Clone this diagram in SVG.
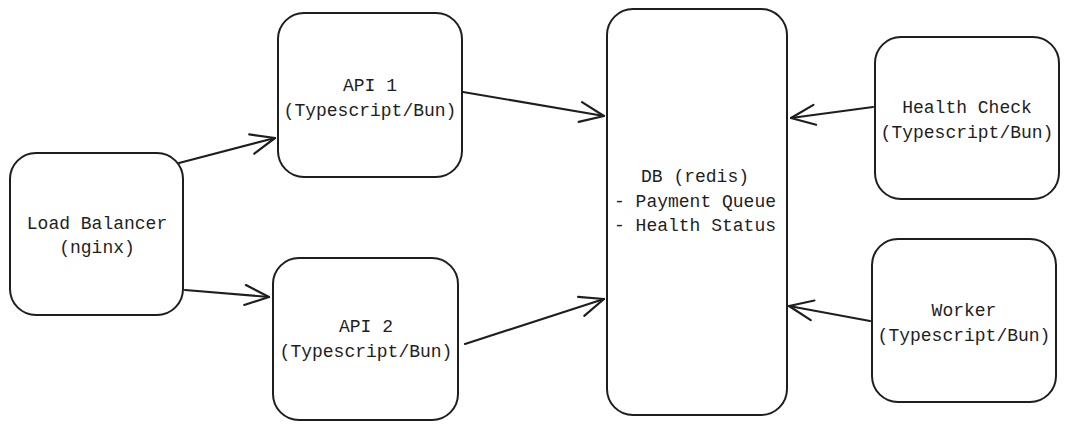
<svg xmlns="http://www.w3.org/2000/svg" width="1069" height="430" viewBox="0 0 1069 430">
<style>
.box{fill:#fff;stroke:#1e1e1e;stroke-width:2}
.lbl{font-family:"Liberation Mono","DejaVu Sans Mono",monospace;font-size:18px;fill:#1e1e1e;text-anchor:middle}
.edge{fill:none;stroke:#1e1e1e;stroke-width:2.2;stroke-linecap:round}
</style>
<defs>
<marker id="arr" markerUnits="userSpaceOnUse" markerWidth="30" markerHeight="30" refX="0" refY="0" viewBox="-28 -14 30 28" orient="auto" overflow="visible">
<path d="M -24 -10 L 0 0 L -24 10" fill="none" stroke="#1e1e1e" stroke-width="2.2" stroke-linecap="round" stroke-linejoin="round"/>
</marker>
</defs>
<rect width="1069" height="430" fill="#fff"/>
<g id="lb"><rect class="box" x="10" y="153" width="173" height="162" rx="26"/>
<text class="lbl" x="97" y="229">Load Balancer</text><text class="lbl" x="97" y="253">(nginx)</text></g>
<g id="api1"><rect class="box" x="278" y="13" width="184" height="164" rx="26"/>
<text class="lbl" x="370" y="91">API 1</text><text class="lbl" x="370" y="116">(Typescript/Bun)</text></g>
<g id="api2"><rect class="box" x="273" y="258" width="185" height="162" rx="26"/>
<text class="lbl" x="366" y="332">API 2</text><text class="lbl" x="366" y="357">(Typescript/Bun)</text></g>
<g id="db"><rect class="box" x="607" y="9" width="180" height="406" rx="26"/>
<text class="lbl" x="695" y="182">DB (redis)</text><text class="lbl" x="695" y="207">- Payment Queue</text><text class="lbl" x="695" y="231">- Health Status</text></g>
<g id="health"><rect class="box" x="875" y="37" width="184" height="162" rx="26"/>
<text class="lbl" x="967" y="113">Health Check</text><text class="lbl" x="967" y="138">(Typescript/Bun)</text></g>
<g id="worker"><rect class="box" x="872" y="239" width="184" height="163" rx="26"/>
<text class="lbl" x="964" y="316">Worker</text><text class="lbl" x="964" y="341">(Typescript/Bun)</text></g>
<g id="connectors">
<path class="edge" d="M 179 163 L 275 138" marker-end="url(#arr)"/>
<path class="edge" d="M 185 290 L 269 297" marker-end="url(#arr)"/>
<path class="edge" d="M 463 92 L 604 116" marker-end="url(#arr)"/>
<path class="edge" d="M 465 344 L 604 299" marker-end="url(#arr)"/>
<path class="edge" d="M 873 107 L 791 118" marker-end="url(#arr)"/>
<path class="edge" d="M 870 321 L 789 306" marker-end="url(#arr)"/>
</g>
</svg>
